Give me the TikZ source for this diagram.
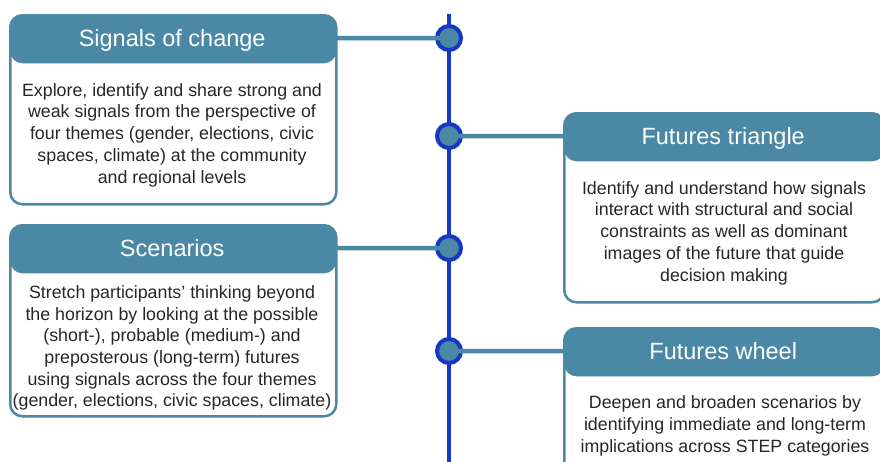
\documentclass[tikz,border=0pt]{standalone}
\usepackage{fontspec}
\setmainfont{Liberation Sans}
\definecolor{steel}{HTML}{4A88A6}
\definecolor{spine}{HTML}{1538C2}
\definecolor{ink}{HTML}{262626}

\begin{document}
\begin{tikzpicture}[x=1pt, y=-1pt,
	card/.style={draw=steel, line width=2.5pt, rounded corners=12pt, anchor=north west, inner sep=0pt,
		path picture={\fill[steel] (path picture bounding box.north west) rectangle ([yshift=-48pt]path picture bounding box.north east);}},
	head/.style={anchor=north west, inner sep=0pt, minimum height=48pt, text height=17pt, text depth=0pt, text=white, font=\fontsize{23.5}{26}\selectfont},
	body/.style={align=center, text=ink, inner sep=0pt, font=\fontsize{17.8}{21.7}\selectfont},
	dot/.style={circle, draw=spine, fill=steel, line width=4pt, minimum size=24pt, inner sep=0pt},
	link/.style={draw=steel, line width=4.5pt}]
	\clip (0,0) rectangle (880,461);
	% cards
	\node[card, minimum width=326pt, minimum height=189pt] (sig) at (9,14) {};
	\node[head, minimum width=326pt] (sighead) at (sig.north west) {Signals of change};
	\node[card, minimum width=320pt, minimum height=189pt] (tri) at (563,112) {};
	\node[head, minimum width=320pt] (trihead) at (tri.north west) {Futures triangle};
	\node[card, minimum width=326pt, minimum height=191pt] (scen) at (9,224) {};
	\node[head, minimum width=326pt] (scenhead) at (scen.north west) {Scenarios};
	\node[card, minimum width=320pt, minimum height=189pt] (wheel) at (563,327) {};
	\node[head, minimum width=320pt] (wheelhead) at (wheel.north west) {Futures wheel};
	% texts
	\node[body] (sigtext) at (172,135) {Explore, identify and share strong and\\weak signals from the perspective of\\four themes (gender, elections, civic\\spaces, climate) at the community\\and regional levels};
	\node[body] (tritext) at (724,233) {Identify and understand how signals\\interact with structural and social\\constraints as well as dominant\\images of the future that guide\\decision making};
	\node[body] (scentext) at (172,348) {Stretch participants’ thinking beyond\\the horizon by looking at the possible\\(short-), probable (medium-) and\\preposterous (long-term) futures\\using signals across the four themes\\(gender, elections, civic spaces, climate)};
	\node[body] (wheeltext) at (725,426) {Deepen and broaden scenarios by\\identifying immediate and long-term\\implications across STEP categories};
	% timeline
	\coordinate (top) at (449,14);
	\coordinate (bot) at (449,470);
	\draw[spine, line width=4.5pt] (top) -- (bot);
	\node[dot] (d1) at (449,38) {};
	\node[dot] (d2) at (449,136) {};
	\node[dot] (d3) at (449,248) {};
	\node[dot] (d4) at (449,351) {};
	\draw[link] (sighead.east) -- (d1.center);
	\draw[link] (trihead.west) -- (d2.center);
	\draw[link] (scenhead.east) -- (d3.center);
	\draw[link] (wheelhead.west) -- (d4.center);
\end{tikzpicture}
\end{document}
